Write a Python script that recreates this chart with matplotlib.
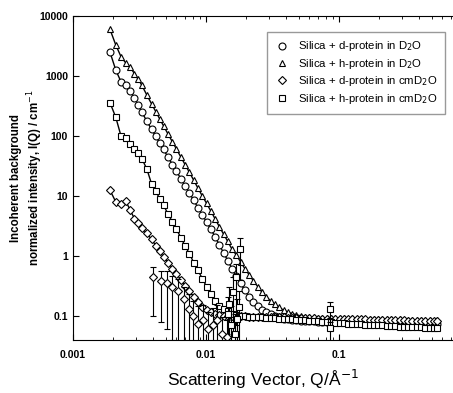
import matplotlib
matplotlib.use("Agg")
import matplotlib.pyplot as plt
from matplotlib.ticker import FuncFormatter, LogLocator, NullFormatter

plt.rcParams['font.family'] = ['Liberation Sans', 'DejaVu Sans']

# shared Q grid (1/A)
q = [0.0019, 0.0021, 0.0023, 0.0025, 0.0027, 0.0029, 0.0031, 0.0033, 0.0036, 0.0039,
     0.0042, 0.0045, 0.0048, 0.0052, 0.0056, 0.0060, 0.0065, 0.0070, 0.0075, 0.0081,
     0.0087, 0.0094, 0.0101, 0.0109, 0.0117, 0.0126, 0.0136, 0.0146, 0.0157, 0.0169,
     0.0182, 0.0196, 0.0211, 0.0227, 0.0245, 0.0264, 0.0284, 0.0306,
     0.0330, 0.0355, 0.0383, 0.0412, 0.0444, 0.0478, 0.0515, 0.0555, 0.0598, 0.0644,
     0.0694, 0.0748, 0.0806, 0.0868, 0.0935, 0.101, 0.109, 0.117, 0.126, 0.136,
     0.146, 0.158, 0.170, 0.183, 0.197, 0.212, 0.229, 0.246, 0.265, 0.286,
     0.308, 0.332, 0.357, 0.385, 0.415, 0.447, 0.481, 0.518, 0.55]

# Silica + h-protein in D2O (triangles)
i_h_d2o = [6000, 3300, 2100, 1650, 1400, 1100, 880, 700, 480, 345,
           255, 192, 148, 107, 80, 61, 44, 33, 25, 18.3,
           13.6, 10.0, 7.6, 5.6, 4.2, 3.1, 2.3, 1.75, 1.3, 1.05,
           0.80, 0.62, 0.49, 0.39, 0.31, 0.25, 0.21, 0.18,
           0.156, 0.139, 0.126, 0.117, 0.110, 0.105, 0.101, 0.098, 0.096, 0.095,
           0.094, 0.094, 0.093, 0.094, 0.092, 0.093, 0.092, 0.091, 0.092, 0.090,
           0.091, 0.090, 0.089, 0.090, 0.089, 0.088, 0.089, 0.088, 0.087, 0.088,
           0.087, 0.086, 0.087, 0.086, 0.085, 0.086, 0.085, 0.084, 0.085]

# Silica + d-protein in D2O (circles)
i_d_d2o = [2500, 1260, 800, 700, 560, 430, 330, 250, 176, 130,
           99, 76, 60, 44, 33.6, 26, 19.2, 14.6, 11.3, 8.5,
           6.4, 4.85, 3.7, 2.8, 2.1, 1.55, 1.12, 0.84, 0.62, 0.46,
           0.35, 0.27, 0.21, 0.17, 0.145, 0.128, 0.116, 0.107,
           0.100, 0.095, 0.091, 0.088, 0.086, 0.085, 0.084, 0.083, 0.082, 0.082,
           0.081, 0.081, 0.080, 0.081, 0.080, 0.079, 0.080, 0.079, 0.078, 0.079,
           0.078, 0.078, 0.077, 0.078, 0.077, 0.076, 0.077, 0.076, 0.076, 0.075,
           0.076, 0.075, 0.074, 0.075, 0.074, 0.074, 0.073, 0.074, 0.073]

# Silica + h-protein in cmD2O (squares)
i_h_cm = [360, 205, 100, 92, 75, 62, 52, 42, 28, 16,
          12, 9.0, 7.0, 5.0, 3.7, 2.8, 2.0, 1.45, 1.1, 0.78,
          0.58, 0.42, 0.31, 0.23, 0.18, 0.15, 0.13, 0.12, 0.11, 0.105,
          0.10, 0.10, 0.098, 0.097, 0.096, 0.095, 0.094, 0.093,
          0.092, 0.091, 0.090, 0.089, 0.088, 0.087, 0.086, 0.085, 0.084, 0.083,
          0.082, 0.081, 0.080, 0.079, 0.078, 0.077, 0.076, 0.075, 0.075, 0.074,
          0.073, 0.072, 0.072, 0.071, 0.070, 0.070, 0.069, 0.068, 0.068, 0.067,
          0.067, 0.066, 0.066, 0.065, 0.065, 0.064, 0.064, 0.063, 0.063]

# Silica + d-protein in cmD2O (diamonds)
i_d_cm = [12.5, 8.0, 7.5, 8.2, 5.8, 4.2, 3.6, 2.9, 2.4, 1.9,
          1.5, 1.2, 0.95, 0.78, 0.62, 0.50, 0.40, 0.32, 0.26, 0.21,
          0.17, 0.14, 0.125, 0.115, 0.108, 0.104, 0.102, 0.101, 0.100, 0.100,
          0.099, 0.099, 0.098, 0.098, 0.097, 0.097, 0.096, 0.096,
          0.096, 0.095, 0.095, 0.094, 0.094, 0.093, 0.093, 0.093, 0.092, 0.092,
          0.091, 0.091, 0.091, 0.090, 0.090, 0.090, 0.089, 0.089, 0.089, 0.088,
          0.088, 0.088, 0.087, 0.087, 0.087, 0.086, 0.086, 0.086, 0.085, 0.085,
          0.085, 0.084, 0.084, 0.084, 0.083, 0.083, 0.083, 0.082, 0.082]

# noisy points with large error bars
dcm_noisy_q = [0.0040, 0.0046, 0.0051, 0.0056, 0.0062, 0.0068, 0.0074, 0.0080,
               0.0087, 0.0095, 0.0104, 0.0113, 0.0122, 0.0132, 0.0143]
dcm_noisy_i = [0.45, 0.38, 0.36, 0.30, 0.26, 0.19, 0.13, 0.10,
               0.075, 0.085, 0.06, 0.07, 0.085, 0.05, 0.045]
dcm_noisy_lo = [0.35, 0.3, 0.3, 0.26, 0.23, 0.17, 0.115, 0.09,
                0.065, 0.075, 0.055, 0.065, 0.078, 0.046, 0.042]
dcm_noisy_hi = [0.2, 0.18, 0.2, 0.17, 0.15, 0.12, 0.1, 0.08,
                0.07, 0.07, 0.055, 0.065, 0.07, 0.045, 0.04]

hcm_noisy_q = [0.0146, 0.0150, 0.0155, 0.0160, 0.0165, 0.0168, 0.0172, 0.0176, 0.0180, 0.085, 0.086]
hcm_noisy_i = [0.11, 0.16, 0.07, 0.25, 0.05, 0.45, 0.09, 0.14, 1.3, 0.13, 0.063]
hcm_noisy_lo = [0.09, 0.12, 0.065, 0.2, 0.047, 0.38, 0.085, 0.12, 0.9, 0.05, 0.03]
hcm_noisy_hi = [0.1, 0.15, 0.08, 0.2, 0.06, 0.3, 0.1, 0.12, 0.7, 0.04, 0.03]

fig = plt.figure(figsize=(4.53, 3.93), dpi=100)
ax = fig.add_axes([0.161, 0.135, 0.839, 0.824])

mk = dict(mfc='white', mec='black', mew=0.8, color='black', lw=1.0)
ax.plot(q, i_d_d2o, marker='o', ms=5, label='Silica + d-protein in D$_2$O', **mk)
ax.plot(q, i_h_d2o, marker='^', ms=5, label='Silica + h-protein in D$_2$O', **mk)
ax.plot(q, i_d_cm, marker='D', ms=4.2, label='Silica + d-protein in cmD$_2$O', **mk)
ax.plot(q, i_h_cm, marker='s', ms=4.5, label='Silica + h-protein in cmD$_2$O', **mk)

ax.errorbar(dcm_noisy_q, dcm_noisy_i, yerr=[dcm_noisy_lo, dcm_noisy_hi], fmt='D', ms=4.2,
            mfc='white', mec='black', mew=0.8, ecolor='black', elinewidth=0.8, capsize=2)
ax.errorbar(hcm_noisy_q, hcm_noisy_i, yerr=[hcm_noisy_lo, hcm_noisy_hi], fmt='s', ms=4.5,
            mfc='white', mec='black', mew=0.8, ecolor='black', elinewidth=0.8, capsize=2)

ax.set_xscale('log')
ax.set_yscale('log')
ax.set_xlim(0.001, 0.72)
ax.set_ylim(0.04, 10000)

ax.xaxis.set_major_formatter(FuncFormatter(lambda v, p: f'{v:g}'))
ax.xaxis.set_minor_formatter(NullFormatter())
ax.yaxis.set_major_formatter(FuncFormatter(lambda v, p: f'{v:g}'))
ax.yaxis.set_minor_locator(LogLocator(base=10, subs=[]))
ax.tick_params(which='both', direction='in', top=True, right=False, labelsize=7.5)
ax.tick_params(which='major', length=4)
ax.tick_params(which='minor', length=2.5)
ax.tick_params(axis='x', pad=7)
for lab in ax.get_xticklabels() + ax.get_yticklabels():
    lab.set_fontweight('bold')
ax.spines['right'].set_visible(False)

ax.set_xlabel('Scattering Vector, Q/Å$^{-1}$', fontsize=12.5, labelpad=6)
ax.set_ylabel('Incoherent background\nnormalized intensity, I(Q) / cm$^{-1}$',
              fontsize=8.3, fontweight='bold', labelpad=-4, linespacing=1.2)

leg = ax.legend(loc='upper right', bbox_to_anchor=(0.995, 0.97), fontsize=8.2,
                frameon=True, fancybox=False, edgecolor='gray', handlelength=1.2,
                borderpad=0.7, labelspacing=0.3, numpoints=1)
for h in leg.legend_handles:
    h.set_linestyle('none')

fig.savefig('out.png', dpi=100)
